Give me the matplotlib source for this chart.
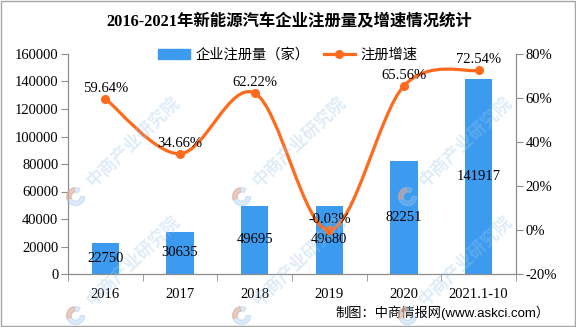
import numpy as np
import matplotlib
matplotlib.use("Agg")
import matplotlib.pyplot as plt
from matplotlib.path import Path
from matplotlib.patches import PathPatch, Rectangle, Wedge
from matplotlib.lines import Line2D

plt.rcParams["font.family"] = ["Liberation Serif", "Noto Sans CJK SC"]

# ---------------------------------------------------------------------
# Data
# ---------------------------------------------------------------------
YEARS = ["2016", "2017", "2018", "2019", "2020", "2021.1-10"]
REGISTRATIONS = [22750, 30635, 49695, 49680, 82251, 141917]
GROWTH = [59.64, 34.66, 62.22, -0.03, 65.56, 72.54]

TITLE = "2016-2021年新能源汽车企业注册量及增速情况统计"
BAR_NAME = "企业注册量（家）"
LINE_NAME = "注册增速"
SOURCE = "制图：中商情报网(www.askci.com）"
WATERMARK = "中商产业研究院"

BAR_COLOR = "#3d9bef"
LINE_COLOR = "#ff6a1c"
AXIS_COLOR = "#8c8c8c"
FS = 10.5


def smooth_path(xs, ys):
    """Catmull-Rom style bezier through the points (Excel-like smoothed line)."""
    pts = np.column_stack([xs, ys]).astype(float)
    n = len(pts)
    verts = [pts[0]]
    codes = [Path.MOVETO]
    for i in range(n - 1):
        p0 = pts[max(i - 1, 0)]
        p1 = pts[i]
        p2 = pts[i + 1]
        p3 = pts[min(i + 2, n - 1)]
        c1 = p1 + (p2 - p0) / 6.0
        c2 = p2 - (p3 - p1) / 6.0
        verts += [c1, c2, p2]
        codes += [Path.CURVE4] * 3
    return Path(verts, codes)


fig = plt.figure(figsize=(5.76, 3.27), dpi=100)
ax = fig.add_axes([68 / 576, 1 - 274 / 327, (516 - 68) / 576, 220 / 327])
ax2 = ax.twinx()

x = np.arange(len(YEARS))

# bars
ax.bar(x, REGISTRATIONS, width=0.37, color=BAR_COLOR, zorder=2)
for xi, v in zip(x, REGISTRATIONS):
    ax.text(xi, v / 2, str(v), ha="center", va="center", fontsize=FS, color="black", zorder=3)

ax.set_xlim(-0.5, len(YEARS) - 0.5)
ax.set_ylim(0, 160000)
ax.set_yticks(np.arange(0, 160001, 20000))
ax.set_xticks(x)
ax.set_xticklabels(YEARS, fontsize=FS)
ax.set_xticks(np.arange(-0.5, len(YEARS), 1), minor=True)
ax.tick_params(axis="x", which="major", length=0, pad=10)
ax.tick_params(axis="x", which="minor", length=5, color=AXIS_COLOR, direction="out")
ax.tick_params(axis="y", labelsize=FS, length=5, color=AXIS_COLOR, pad=2)

# line
ax2.set_ylim(-20, 80)
ax2.set_yticks(np.arange(-20, 81, 20))
ax2.set_yticklabels([f"{t}%" for t in range(-20, 81, 20)])
ax2.tick_params(axis="y", labelsize=FS, length=5, color=AXIS_COLOR, pad=2)
ax2.add_patch(PathPatch(smooth_path(x, GROWTH), facecolor="none", edgecolor=LINE_COLOR,
                        lw=2.3, zorder=4, capstyle="round"))
ax2.plot(x, GROWTH, linestyle="none", marker="o", ms=5.5, color=LINE_COLOR, zorder=5)
for xi, g in zip(x, GROWTH):
    ax2.annotate(f"{g:.2f}%", (xi, g), xytext=(0, 7.5), textcoords="offset points",
                 ha="center", va="center", fontsize=FS, zorder=6)

for a in (ax, ax2):
    a.spines["top"].set_visible(False)
    for side in ("left", "right", "bottom"):
        a.spines[side].set_color(AXIS_COLOR)
ax.set_zorder(1)
ax2.set_zorder(2)
ax.patch.set_visible(False)

# title / legend / source
fig.text(289 / 576, 1 - 22 / 327, TITLE, ha="center", va="center", fontsize=11.8, fontweight="bold")
handles = [Rectangle((0, 0), 1, 1, color=BAR_COLOR),
           Line2D([0], [0], color=LINE_COLOR, lw=2.3, marker="o", ms=5.5)]
fig.legend(handles, [BAR_NAME, LINE_NAME], loc="center", ncol=2, frameon=False,
           bbox_to_anchor=(288 / 576, 1 - 55 / 327), fontsize=10.3, handlelength=2.2,
           handletextpad=0.4, columnspacing=1.0)
fig.text(550 / 576, 1 - 313 / 327, SOURCE, ha="right", va="center", fontsize=9.5,
         family=["Liberation Sans", "Noto Sans CJK SC"])

# watermark (faint, diagonal) - only the copies that sit fully inside the picture
ang = np.deg2rad(44)
d = np.array([np.cos(ang), np.sin(ang)])
for cy in (148, 267):
    for cx in (126, 292, 458):
        c = np.array([cx, 327 - cy], dtype=float)
        tpos = c + 10 * d
        fig.text(tpos[0] / 576, tpos[1] / 327, WATERMARK, rotation=44, ha="center", va="center",
                 fontsize=12.5, fontweight="bold", color="#9cc6ea", alpha=0.32, zorder=10,
                 family="Noto Sans CJK SC", rotation_mode="anchor")
        lpos = (c - 70 * d) / 100
        fig.patches.append(Wedge(tuple(lpos), 0.09, 60, 360, width=0.045, color="#9cc6ea",
                                 alpha=0.35, transform=fig.dpi_scale_trans, zorder=10))
        fig.patches.append(Wedge(tuple(lpos), 0.09, 100, 200, width=0.045, color="#f4a07c",
                                 alpha=0.4, transform=fig.dpi_scale_trans, zorder=10))

fig.patches.append(Rectangle((0.001, 0.002), 0.997, 0.995, transform=fig.transFigure,
                             fill=False, edgecolor="#a6a6a6", lw=1))

fig.savefig("out.png", dpi=100)
